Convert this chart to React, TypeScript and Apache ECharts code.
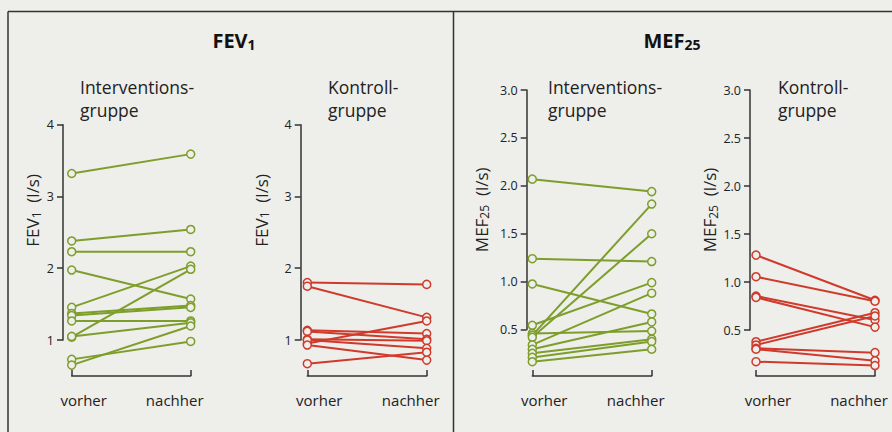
import React, { useEffect, useRef } from "react";
import * as echarts from "echarts";

const categories = ["vorher", "nachher"];

const fevIntVorher = [3.32, 2.38, 2.23, 1.975, 1.455, 1.37, 1.34, 1.265, 1.04, 1.05, 0.73, 0.65];
const fevIntNachher = [3.59, 2.54, 2.23, 1.57, 2.03, 1.48, 1.455, 1.265, 1.985, 1.24, 0.98, 1.195];

const fevKonVorher = [1.8, 1.75, 0.95, 1.135, 1.12, 1.01, 1.0, 0.93, 0.67];
const fevKonNachher = [1.775, 1.315, 1.265, 1.09, 1.01, 0.99, 0.885, 0.72, 0.83];

const mefIntVorher = [2.07, 1.24, 0.976, 0.545, 0.46, 0.44, 0.42, 0.34, 0.295, 0.253, 0.21, 0.165];
const mefIntNachher = [1.94, 1.21, 0.663, 0.99, 0.485, 1.81, 1.5, 0.88, 0.58, 0.4, 0.375, 0.295];

const mefKonVorher = [1.28, 1.055, 0.854, 0.84, 0.378, 0.344, 0.31, 0.3, 0.17];
const mefKonNachher = [0.81, 0.8, 0.604, 0.53, 0.68, 0.646, 0.264, 0.18, 0.13];

const fevTicks = { min: 1, max: 4, interval: 1 };
const mefTicks = { min: 0.5, max: 3, interval: 0.5 };

const BG = "#eeeeea";
const GREEN = "#7d9e2b";
const RED = "#cf3a2c";
const INK = "#222";
const FONT = "Open Sans";

function makeSeries(vor: number[], nach: number[], idx: number, color: string) {
  return vor.map((v, i) => ({
    type: "line",
    xAxisIndex: idx,
    yAxisIndex: idx,
    data: [v, nach[i]],
    clip: false,
    symbol: "circle",
    symbolSize: 8,
    silent: true,
    lineStyle: { color, width: 2 },
    itemStyle: { color: BG, borderColor: color, borderWidth: 1.5 },
    z: 3,
  }));
}

function makeX(idx: number, offset: number) {
  const lab = { fontSize: 15, fontFamily: FONT, color: INK };
  return {
    gridIndex: idx,
    type: "category",
    data: categories,
    boundaryGap: false,
    offset,
    axisLine: { lineStyle: { color: "#333", width: 1.5 } },
    axisTick: { inside: true, length: 6, lineStyle: { color: "#333", width: 1.5 } },
    splitLine: { show: false },
    axisLabel: {
      margin: 16,
      formatter: (v: string) => (v === "vorher" ? "{l|" + v + "}" : "{r|" + v + "}"),
      rich: {
        l: { ...lab, padding: [0, 0, 0, 24] },
        r: { ...lab, padding: [0, 32, 0, 0] },
      },
    },
  };
}

function makeY(
  idx: number,
  ticks: { min: number; max: number; interval: number },
  offset: number,
  mainName: string,
  sub: string,
  nameGap: number,
  shiftUp: number,
  decimals: number
) {
  return {
    gridIndex: idx,
    type: "value",
    min: ticks.min,
    max: ticks.max,
    interval: ticks.interval,
    offset,
    axisLine: { show: true, lineStyle: { color: "#333", width: 1.5 } },
    axisTick: { show: true, length: 6, lineStyle: { color: "#333", width: 1.5 } },
    splitLine: { show: false },
    axisLabel: {
      margin: 9,
      fontSize: 12.5,
      fontFamily: FONT,
      color: INK,
      formatter: (v: number) => v.toFixed(decimals),
    },
    name: "{a|" + mainName + "}{s|" + sub + "}{a|  (l/s)}",
    nameLocation: "middle",
    nameRotate: 90,
    nameGap,
    nameTextStyle: {
      padding: [0, 0, 0, shiftUp * 2],
      rich: {
        a: { fontSize: 17, fontFamily: FONT, color: INK },
        s: { fontSize: 12, fontFamily: FONT, color: INK, padding: [7, 0, 0, 0] },
      },
    },
  };
}

function textLine(text: string, x: number, y: number) {
  return {
    type: "text",
    x,
    y,
    style: {
      text,
      fontSize: 17.5,
      fontFamily: FONT,
      fill: INK,
      align: "left",
      verticalAlign: "middle",
    },
  };
}

function mainTitle(main: string, sub: string, x: number, y: number) {
  return {
    type: "text",
    x,
    y,
    style: {
      text: "{m|" + main + "}{s|" + sub + "}",
      align: "center",
      verticalAlign: "middle",
      rich: {
        m: { fontSize: 20, fontWeight: "bold", fontFamily: FONT, fill: "#111" },
        s: { fontSize: 14, fontWeight: "bold", fontFamily: FONT, fill: "#111", padding: [8, 0, 0, 0] },
      },
    },
  };
}

function frameLine(x1: number, y1: number, x2: number, y2: number) {
  return {
    type: "line",
    shape: { x1, y1, x2, y2 },
    style: { stroke: "#333", lineWidth: 1.5 },
  };
}

export default function App() {
  const ref = useRef<HTMLDivElement>(null);

  useEffect(() => {
    if (!ref.current) return;
    const chart = echarts.init(ref.current, null, { renderer: "svg" });
    const option = {
      animation: false,
      backgroundColor: BG,
      grid: [
        { left: 71.7, top: 124.7, width: 119, height: 215.3 },
        { left: 307.3, top: 124.7, width: 119.4, height: 215.3 },
        { left: 532.3, top: 90, width: 119.4, height: 239.6 },
        { left: 756, top: 90, width: 119, height: 240 },
      ],
      xAxis: [makeX(0, 36), makeX(1, 36), makeX(2, 46.4), makeX(3, 46)],
      yAxis: [
        makeY(0, fevTicks, 8.7, "FEV", "1", 21, 22, 0),
        makeY(1, fevTicks, 6.6, "FEV", "1", 30, 22, 0),
        makeY(2, mefTicks, 5.6, "MEF", "25", 36, 0, 1),
        makeY(3, mefTicks, 6, "MEF", "25", 31, 0, 1),
      ],
      graphic: [
        frameLine(8, 11.5, 892, 11.5),
        frameLine(8, 11.5, 8, 432),
        frameLine(453.5, 11.5, 453.5, 432),
        mainTitle("FEV", "1", 234, 40),
        mainTitle("MEF", "25", 672, 40),
        textLine("Interventions-", 80, 87),
        textLine("gruppe", 80, 110),
        textLine("Kontroll-", 328, 87),
        textLine("gruppe", 328, 110),
        textLine("Interventions-", 548, 87),
        textLine("gruppe", 548, 110),
        textLine("Kontroll-", 778, 87),
        textLine("gruppe", 778, 110),
      ],
      series: [
        ...makeSeries(fevIntVorher, fevIntNachher, 0, GREEN),
        ...makeSeries(fevKonVorher, fevKonNachher, 1, RED),
        ...makeSeries(mefIntVorher, mefIntNachher, 2, GREEN),
        ...makeSeries(mefKonVorher, mefKonNachher, 3, RED),
      ],
    };
    chart.setOption(option as any);
    return () => chart.dispose();
  }, []);

  return (
    <div
      ref={ref}
      style={{ position: "fixed", left: 0, top: 0, width: 892, height: 432 }}
    />
  );
}
